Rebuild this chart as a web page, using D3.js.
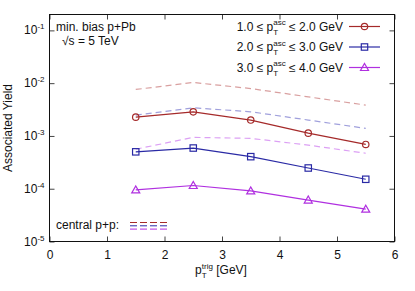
<!DOCTYPE html>
<html>
<head>
<meta charset="utf-8">
<script src="https://cdn.jsdelivr.net/npm/d3@7"></script>
<style>
  body { margin: 0; padding: 0; background: #fff; }
  svg { display: block; font-family: "Liberation Sans", Arial, sans-serif; }
  svg text { white-space: pre; }
</style>
</head>
<body>
<div id="main"></div>
<script>
// data
const ptTrig = [1.5, 2.5, 3.5, 4.5, 5.5];
const yield1to2 = [2.27e-3, 2.86e-3, 2.0e-3, 1.13e-3, 6.9e-4];
const yield2to3 = [5.0e-4, 5.9e-4, 4.05e-4, 2.47e-4, 1.51e-4];
const yield3to4 = [9.5e-5, 1.15e-4, 9.1e-5, 6.1e-5, 4.1e-5];
const ppYield1to2 = [7.6e-3, 1.03e-2, 7.9e-3, 5.5e-3, 3.84e-3];
const ppYield2to3 = [2.48e-3, 3.41e-3, 2.87e-3, 2.0e-3, 1.39e-3];
const ppYield3to4 = [5.6e-4, 9.4e-4, 9.0e-4, 6.7e-4, 4.7e-4];
const xTicks = [0, 1, 2, 3, 4, 5, 6];
const yTicks = [1e-5, 1e-4, 1e-3, 1e-2, 1e-1];
const yTickExp = ['-5', '-4', '-3', '-2', '-1'];
const binLabels = [['1.0', '2.0'], ['2.0', '3.0'], ['3.0', '4.0']];

const W = 415, H = 291;
const X0 = 49.5, X1 = 394.5, Y0 = 14.5, Y1 = 241.5;
const FONT = 12;
const SMALL = 8;

const series = [
    {vals: yield1to2, pp: ppYield1to2, color: '#a52a2a', light: '#d9a0a0', marker: 'circle', lab: binLabels[0]},
    {vals: yield2to3, pp: ppYield2to3, color: '#2a2aa5', light: '#a0a0dc', marker: 'square', lab: binLabels[1]},
    {vals: yield3to4, pp: ppYield3to4, color: '#b030e0', light: '#dca0f4', marker: 'triangle', lab: binLabels[2]}
];

const svg = d3.select('#main').append('svg').attr('width', W).attr('height', H);

const x = d3.scaleLinear().domain([0, 6]).range([X0, X1]);
const y = d3.scaleLog().domain([1e-5, 0.2]).range([Y1, Y0]);

// text made of pieces (for sub/superscripts); returns group
const richText = (parent, pieces, px, py, anchor) => {
    const g = parent.append('g');
    let cx = 0, prevStart = 0, prevW = 0;
    pieces.forEach((p) => {
        const start = p.stack ? prevStart : cx;
        const t = g.append('text').attr('x', start).attr('y', p.dy || 0)
            .attr('font-size', p.size || FONT).attr('fill', '#111').text(p.t);
        const w = t.node().getComputedTextLength();
        if (p.stack) { cx = start + Math.max(w, prevW); } else { cx = start + w; }
        prevStart = start; prevW = w;
    });
    const shift = anchor === 'end' ? -cx : anchor === 'middle' ? -cx / 2 : 0;
    g.attr('transform', `translate(${px + shift},${py})`);
    return g;
};

// axes
const tickLen = 5;
svg.append('g').attr('transform', `translate(0,${Y1})`)
    .call(d3.axisBottom(x).tickValues(xTicks).tickSize(-tickLen).tickPadding(9).tickFormat(d3.format('d')))
    .call((g) => g.select('.domain').remove())
    .call((g) => g.selectAll('text').attr('font-size', FONT).attr('fill', '#111').attr('font-family', null));
svg.append('g').attr('transform', `translate(0,${Y0})`)
    .call(d3.axisTop(x).tickValues(xTicks).tickSize(-tickLen).tickFormat(''))
    .call((g) => g.select('.domain').remove());
svg.append('g').attr('transform', `translate(${X0},0)`)
    .call(d3.axisLeft(y).tickValues(yTicks).tickSize(-tickLen).tickFormat(''))
    .call((g) => g.select('.domain').remove());
svg.append('g').attr('transform', `translate(${X1},0)`)
    .call(d3.axisRight(y).tickValues(yTicks).tickSize(-tickLen).tickFormat(''))
    .call((g) => g.select('.domain').remove());
svg.selectAll('.tick line').attr('stroke', '#444');

yTicks.forEach((v, i) => {
    richText(svg, [{t: '10'}, {t: yTickExp[i], size: SMALL, dy: -5}], X0 - 5, y(v) + 4, 'end');
});

svg.append('rect').attr('x', X0).attr('y', Y0).attr('width', X1 - X0).attr('height', Y1 - Y0)
    .attr('fill', 'none').attr('stroke', '#111').attr('stroke-width', 1);

// axis titles
svg.append('text').attr('transform', `translate(12,${(Y0 + Y1) / 2}) rotate(-90)`)
    .attr('text-anchor', 'middle').attr('font-size', FONT).attr('fill', '#111').text('Associated Yield');
richText(svg, [{t: 'p'}, {t: 'T', size: SMALL, dy: 4}, {t: 'trig', size: SMALL, dy: -5.5, stack: true}, {t: ' [GeV]'}],
    (X0 + X1) / 2 - 1, 274, 'middle');

// p+p reference curves (dashed, light)
const line = d3.line().x((d) => x(d[0])).y((d) => y(d[1]));
series.forEach((s) => {
    svg.append('path').datum(ptTrig.map((p, i) => [p, s.pp[i]])).attr('d', line)
        .attr('fill', 'none').attr('stroke', s.light).attr('stroke-width', 1.2).attr('stroke-dasharray', '6,4');
});

const drawMarker = (g, type, cx, cy, color) => {
    if (type === 'circle') {
        g.append('circle').attr('cx', cx).attr('cy', cy).attr('r', 3.2)
            .attr('fill', 'none').attr('stroke', color).attr('stroke-width', 1.2);
    } else if (type === 'square') {
        g.append('rect').attr('x', cx - 3.2).attr('y', cy - 3.2).attr('width', 6.4).attr('height', 6.4)
            .attr('fill', 'none').attr('stroke', color).attr('stroke-width', 1.2);
    } else {
        g.append('path').attr('d', `M${cx - 4},${cy + 3}L${cx + 4},${cy + 3}L${cx},${cy - 4}Z`)
            .attr('fill', 'none').attr('stroke', color).attr('stroke-width', 1.2);
    }
};

// p+Pb data
series.forEach((s) => {
    const g = svg.append('g');
    g.append('path').datum(ptTrig.map((p, i) => [p, s.vals[i]])).attr('d', line)
        .attr('fill', 'none').attr('stroke', s.color).attr('stroke-width', 1.2);
    ptTrig.forEach((p, i) => drawMarker(g, s.marker, x(p), y(s.vals[i]), s.color));
});

// text labels
richText(svg, [{t: 'min. bias p+Pb'}], 56, 30.5, 'start');
richText(svg, [{t: '\u221As = 5 TeV'}], 62, 45, 'start');

// legend
series.forEach((s, i) => {
    const ly = 26.5 + i * 20.5;
    richText(svg, [{t: `${s.lab[0]} \u2264 p`}, {t: 'T', size: SMALL, dy: 4}, {t: 'asc', size: SMALL, dy: -5.5, stack: true},
        {t: ` \u2264 ${s.lab[1]} GeV`}], 343, ly + 4, 'end');
    svg.append('line').attr('x1', 349).attr('x2', 380).attr('y1', ly).attr('y2', ly)
        .attr('stroke', s.color).attr('stroke-width', 1.2);
    drawMarker(svg, s.marker, 364.5, ly, s.color);
});

richText(svg, [{t: 'central p+p:'}], 56, 229, 'start');
series.forEach((s, i) => {
    svg.append('line').attr('x1', 130).attr('x2', 168).attr('y1', 222.5 + i * 3.3).attr('y2', 222.5 + i * 3.3)
        .attr('stroke', s.color).attr('stroke-width', 1).attr('stroke-dasharray', '7,3');
});
</script>
</body>
</html>
